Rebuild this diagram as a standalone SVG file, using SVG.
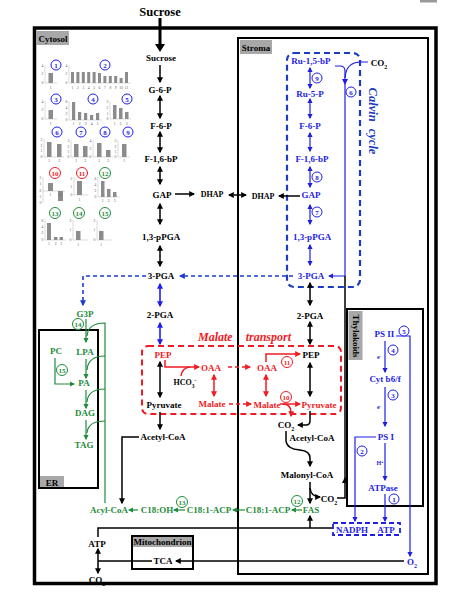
<svg xmlns="http://www.w3.org/2000/svg" width="471" height="604" viewBox="0 0 471 604">
<style>
text{font-family:"Liberation Serif","Times New Roman",serif;font-weight:bold;text-anchor:middle}
.n{font-size:9px;fill:#000}
.nb{font-size:9px;fill:#1e1ee6}
.nr{font-size:9px;fill:#ee1c24}
.ng{font-size:9px;fill:#1e8c3a}
.s8{font-size:8px}
.sm{font-size:6px}
.gray{fill:#a8a8a8}
.box{fill:none;stroke:#000;stroke-width:2}
.k{fill:none;stroke:#000;stroke-width:1.5}
.b{fill:none;stroke:#1e1ee6;stroke-width:1.2}
.bb{fill:none;stroke:#1e1ef5;stroke-width:1.6}
.bd{fill:none;stroke:#1c3cd0;stroke-width:1.6;stroke-dasharray:4 3}
.r{fill:none;stroke:#ee1c24;stroke-width:1.5}
.g{fill:none;stroke:#1e8c3a;stroke-width:1.2}
.dsh{stroke-dasharray:4 3}
.ax{fill:none;stroke:#c4c4c4;stroke-width:0.6}
.bar{fill:#8c8c8c}
.tk{font-size:3.6px;font-weight:normal;fill:#555}
.cb{fill:#fff;stroke:#1e1ee6;stroke-width:1}
.cr{fill:#fff;stroke:#ee1c24;stroke-width:1}
.cg{fill:#fff;stroke:#1e8c3a;stroke-width:1}
.cn{font-size:7px}
.big{font-size:12.5px}
</style>
<defs>
<marker id="aK" viewBox="0 0 10 10" refX="8" refY="5" markerWidth="6" markerHeight="6" markerUnits="userSpaceOnUse" orient="auto-start-reverse"><path d="M0,0L10,5L0,10z" fill="#000"/></marker>
<marker id="aB" viewBox="0 0 10 10" refX="8" refY="5" markerWidth="5.5" markerHeight="5.5" markerUnits="userSpaceOnUse" orient="auto-start-reverse"><path d="M0,0L10,5L0,10z" fill="#1e1ee6"/></marker>
<marker id="aBB" viewBox="0 0 10 10" refX="8" refY="5" markerWidth="6" markerHeight="6" markerUnits="userSpaceOnUse" orient="auto-start-reverse"><path d="M0,0L10,5L0,10z" fill="#1e1ef5"/></marker>
<marker id="aBD" viewBox="0 0 10 10" refX="8" refY="5" markerWidth="6" markerHeight="6" markerUnits="userSpaceOnUse" orient="auto-start-reverse"><path d="M0,0L10,5L0,10z" fill="#1c3cd0"/></marker>
<marker id="aR" viewBox="0 0 10 10" refX="8" refY="5" markerWidth="6" markerHeight="6" markerUnits="userSpaceOnUse" orient="auto-start-reverse"><path d="M0,0L10,5L0,10z" fill="#ee1c24"/></marker>
<marker id="aG" viewBox="0 0 10 10" refX="8" refY="5" markerWidth="5.5" markerHeight="5.5" markerUnits="userSpaceOnUse" orient="auto-start-reverse"><path d="M0,0L10,5L0,10z" fill="#1e8c3a"/></marker>
</defs>
<rect width="471" height="604" fill="#fff"/>
<rect x="420" y="0" width="17" height="2.5" fill="#999"/>

<!-- compartments -->
<g id="cytosol">
<rect x="34.5" y="28" width="401.5" height="555.5" fill="none" stroke="#000" stroke-width="3.5"/>
<rect class="gray" x="36" y="31" width="33" height="14"/>
<text class="n" x="53" y="41.5">Cytosol</text>
</g>
<g id="stroma">
<rect class="box" x="238" y="38" width="190" height="536"/>
<rect class="gray" x="240" y="40" width="32" height="14"/>
<text class="n" x="256" y="50.5">Stroma</text>
</g>
<g id="thylakoids">
<rect class="box" x="347" y="309" width="76" height="197"/>
<rect class="gray" x="348.5" y="311" width="14" height="49"/>
<text class="n" transform="translate(353,336) rotate(90)">Thylakoids</text>
</g>
<g id="er">
<rect class="box" x="39" y="330" width="59" height="158"/>
<rect class="gray" x="40" y="476" width="24" height="11"/>
<text class="n" x="52" y="485.5">ER</text>
</g>
<g id="mitochondrion">
<rect class="gray" x="132" y="536" width="61" height="11"/>
<rect class="box" x="132" y="536" width="61" height="33"/>
<text class="n" x="162.5" y="545">Mitochondrion</text>
</g>
<g id="calvin-cycle">
<rect x="287" y="53" width="73" height="234" rx="7" fill="none" stroke="#1c3cc0" stroke-width="2.2" stroke-dasharray="6 4"/>
<text font-size="12.5" font-style="italic" fill="#1c3cc0" word-spacing="4" transform="translate(369,121) rotate(90)">Calvin cycle</text>
</g>
<g id="malate-transport">
<rect x="142" y="346" width="199" height="68" rx="6" fill="none" stroke="#ee1c24" stroke-width="2" stroke-dasharray="6 4"/>
<text font-size="12" font-style="italic" fill="#ee1c24" word-spacing="10" x="198" y="341" style="text-anchor:start">Malate transport</text>
</g>

<!-- bar charts -->
<g id="charts">
<g id="chart1"><path class="ax" d="M45 65V83H57"/><rect class="bar" x="48.5" y="73" width="4.5" height="10"/>
<text class="tk" x="42.5" y="67">4</text><text class="tk" x="42.5" y="75">2</text><text class="tk" x="42.5" y="84">0</text><text class="tk" x="50.7" y="89">1</text></g>
<g id="chart2"><path class="ax" d="M69 65V83H131"/>
<rect class="bar" x="71" y="72" width="3" height="11"/><rect class="bar" x="76.4" y="72" width="3" height="11"/><rect class="bar" x="81.8" y="72" width="3" height="11"/><rect class="bar" x="87.2" y="72" width="3" height="11"/><rect class="bar" x="92.6" y="72" width="3" height="11"/><rect class="bar" x="98" y="73" width="3" height="10"/><rect class="bar" x="103.4" y="76" width="3" height="7"/><rect class="bar" x="108.8" y="76" width="3" height="7"/><rect class="bar" x="114.2" y="76" width="3" height="7"/><rect class="bar" x="119.6" y="78" width="3" height="5"/><rect class="bar" x="125" y="72" width="3" height="11"/>
<text class="tk" x="66.5" y="67">4</text><text class="tk" x="66.5" y="75">2</text><text class="tk" x="66.5" y="84">0</text>
<text class="tk" x="72.5" y="89">1</text><text class="tk" x="77.9" y="89">2</text><text class="tk" x="83.3" y="89">3</text><text class="tk" x="88.7" y="89">4</text><text class="tk" x="94.1" y="89">5</text><text class="tk" x="99.5" y="89">6</text><text class="tk" x="104.9" y="89">7</text><text class="tk" x="110.3" y="89">8</text><text class="tk" x="115.7" y="89">9</text><text class="tk" x="121.1" y="89">10</text><text class="tk" x="126.5" y="89">11</text></g>
<g id="chart3"><path class="ax" d="M45 101V119H57"/><rect class="bar" x="48.5" y="110" width="4.5" height="9"/>
<text class="tk" x="42.5" y="103">4</text><text class="tk" x="42.5" y="111">2</text><text class="tk" x="42.5" y="120">0</text><text class="tk" x="50.7" y="125">1</text></g>
<g id="chart4"><path class="ax" d="M69 101V120H102"/>
<rect class="bar" x="72" y="102" width="3.2" height="18"/><rect class="bar" x="78" y="112" width="3.2" height="8"/><rect class="bar" x="84" y="113" width="3.2" height="7"/><rect class="bar" x="90" y="115" width="3.2" height="5"/><rect class="bar" x="96" y="113" width="3.2" height="7"/>
<text class="tk" x="66.5" y="103">6</text><text class="tk" x="66.5" y="109">4</text><text class="tk" x="66.5" y="115">2</text><text class="tk" x="66.5" y="121">0</text>
<text class="tk" x="73.6" y="125">1</text><text class="tk" x="79.6" y="125">2</text><text class="tk" x="85.6" y="125">3</text><text class="tk" x="91.6" y="125">4</text><text class="tk" x="97.6" y="125">5</text></g>
<g id="chart5"><path class="ax" d="M110 101V119H131"/>
<rect class="bar" x="113" y="105" width="3.5" height="14"/><rect class="bar" x="119" y="108" width="3.5" height="11"/><rect class="bar" x="125" y="112" width="3.5" height="7"/>
<text class="tk" x="107.5" y="103">3</text><text class="tk" x="107.5" y="109">2</text><text class="tk" x="107.5" y="115">1</text><text class="tk" x="107.5" y="120">0</text>
<text class="tk" x="114.7" y="125">1</text><text class="tk" x="120.7" y="125">2</text><text class="tk" x="126.7" y="125">3</text></g>
<g id="chart6"><path class="ax" d="M44 139V157H64"/>
<rect class="bar" x="47" y="142" width="4.5" height="15"/><rect class="bar" x="57" y="144" width="4.5" height="13"/>
<text class="tk" x="41.5" y="141">3</text><text class="tk" x="41.5" y="147">2</text><text class="tk" x="41.5" y="152">1</text><text class="tk" x="41.5" y="158">0</text>
<text class="tk" x="49.2" y="162">1</text><text class="tk" x="59.2" y="162">2</text></g>
<g id="chart7"><path class="ax" d="M71 140V157H90"/>
<rect class="bar" x="74" y="144" width="4.5" height="13"/><rect class="bar" x="83" y="146" width="4.5" height="11"/>
<text class="tk" x="68.5" y="142">3</text><text class="tk" x="68.5" y="148">2</text><text class="tk" x="68.5" y="153">1</text><text class="tk" x="68.5" y="158">0</text>
<text class="tk" x="76.2" y="162">1</text><text class="tk" x="85.2" y="162">2</text></g>
<g id="chart8"><path class="ax" d="M93 140V157H113"/>
<rect class="bar" x="97" y="143" width="4.5" height="14"/><rect class="bar" x="106" y="150" width="4.5" height="7"/>
<text class="tk" x="90.5" y="142">4</text><text class="tk" x="90.5" y="150">2</text><text class="tk" x="90.5" y="158">0</text>
<text class="tk" x="99.2" y="162">1</text><text class="tk" x="108.2" y="162">2</text></g>
<g id="chart9"><path class="ax" d="M118 140V157H130"/>
<rect class="bar" x="122" y="144" width="4.5" height="13"/>
<text class="tk" x="115.5" y="142">3</text><text class="tk" x="115.5" y="148">2</text><text class="tk" x="115.5" y="153">1</text><text class="tk" x="115.5" y="158">0</text>
<text class="tk" x="124.2" y="162">1</text></g>
<g id="chart10"><path class="ax" d="M43 177V203M43 191H65"/>
<rect class="bar" x="48" y="183" width="5" height="8"/><rect class="bar" x="58" y="191" width="5" height="10"/>
<text class="tk" x="40.5" y="179">2</text><text class="tk" x="40.5" y="185">1</text><text class="tk" x="40.5" y="192">0</text><text class="tk" x="40" y="198">-1</text><text class="tk" x="40" y="204">-2</text>
<text class="tk" x="50.5" y="196">1</text><text class="tk" x="60.5" y="196">2</text></g>
<g id="chart11"><path class="ax" d="M74 177V195H88"/>
<rect class="bar" x="77" y="181" width="5" height="14"/>
<text class="tk" x="71.5" y="180">2</text><text class="tk" x="71.5" y="188">1</text><text class="tk" x="71.5" y="196">0</text><text class="tk" x="79.5" y="201">1</text></g>
<g id="chart12"><path class="ax" d="M98 177V197H120"/>
<rect class="bar" x="101" y="181" width="3.5" height="16"/><rect class="bar" x="107" y="189" width="3.5" height="8"/><rect class="bar" x="113" y="192" width="3.5" height="5"/>
<text class="tk" x="95.5" y="180">6</text><text class="tk" x="95.5" y="186">4</text><text class="tk" x="95.5" y="192">2</text><text class="tk" x="95.5" y="198">0</text>
<text class="tk" x="102.7" y="202">1</text><text class="tk" x="108.7" y="202">2</text><text class="tk" x="114.7" y="202">3</text></g>
<g id="chart13"><path class="ax" d="M45 219V240H66"/>
<rect class="bar" x="47" y="223" width="4" height="17"/><rect class="bar" x="54" y="237" width="3.5" height="3"/><rect class="bar" x="59.5" y="237" width="3.5" height="3"/>
<text class="tk" x="42.5" y="222">6</text><text class="tk" x="42.5" y="228">4</text><text class="tk" x="42.5" y="234">2</text><text class="tk" x="42.5" y="241">0</text>
<text class="tk" x="49" y="245">1</text><text class="tk" x="55.7" y="245">2</text><text class="tk" x="61.2" y="245">3</text></g>
<g id="chart14"><path class="ax" d="M73 220V240H88"/>
<rect class="bar" x="76" y="231" width="4.5" height="9"/>
<text class="tk" x="70.5" y="222">2</text><text class="tk" x="70.5" y="231">1</text><text class="tk" x="70.5" y="241">0</text><text class="tk" x="78.2" y="246">1</text></g>
<g id="chart15"><path class="ax" d="M97 220V240H112"/>
<rect class="bar" x="99" y="231" width="4.5" height="9"/>
<text class="tk" x="94.5" y="222">2</text><text class="tk" x="94.5" y="231">1</text><text class="tk" x="94.5" y="241">0</text><text class="tk" x="101.2" y="246">1</text></g>
<g id="chart-labels">
<circle class="cb" cx="56" cy="65" r="5"/><text class="nb cn" x="56" y="67.5">1</text>
<circle class="cb" cx="105" cy="65" r="5"/><text class="nb cn" x="105" y="67.5">2</text>
<circle class="cb" cx="56" cy="99" r="5"/><text class="nb cn" x="56" y="101.5">3</text>
<circle class="cb" cx="93" cy="99" r="5"/><text class="nb cn" x="93" y="101.5">4</text>
<circle class="cb" cx="127" cy="99" r="5"/><text class="nb cn" x="127" y="101.5">5</text>
<circle class="cb" cx="57" cy="132" r="5"/><text class="nb cn" x="57" y="134.5">6</text>
<circle class="cb" cx="81" cy="132" r="5"/><text class="nb cn" x="81" y="134.5">7</text>
<circle class="cb" cx="105" cy="132" r="5"/><text class="nb cn" x="105" y="134.5">8</text>
<circle class="cb" cx="128" cy="132" r="5"/><text class="nb cn" x="128" y="134.5">9</text>
<circle class="cr" cx="55" cy="173" r="5.5"/><text class="nr cn" x="55" y="175.5">10</text>
<circle class="cr" cx="82" cy="173" r="5.5"/><text class="nr cn" x="82" y="175.5">11</text>
<circle class="cg" cx="105" cy="173" r="5.5"/><text class="ng cn" x="105" y="175.5">12</text>
<circle class="cg" cx="55" cy="213" r="5.5"/><text class="ng cn" x="55" y="215.5">13</text>
<circle class="cg" cx="79" cy="213" r="5.5"/><text class="ng cn" x="79" y="215.5">14</text>
<circle class="cg" cx="105" cy="213" r="5.5"/><text class="ng cn" x="105" y="215.5">15</text>
</g>
</g>

<!-- connectors -->
<g id="connectors">
<path d="M160 18V45" stroke="#000" stroke-width="3" fill="none"/>
<polygon points="155,44 165,44 160,52" fill="#000"/>
<path class="k" d="M160 65V82" marker-end="url(#aK)"/>
<path class="k" d="M160 96V118" marker-start="url(#aK)" marker-end="url(#aK)"/>
<path class="k" d="M160 132V152" marker-start="url(#aK)" marker-end="url(#aK)"/>
<path class="k" d="M160 167V184" marker-start="url(#aK)" marker-end="url(#aK)"/>
<path class="k" d="M160 204V224" marker-start="url(#aK)" marker-end="url(#aK)"/>
<path class="k" d="M160 246V266" marker-start="url(#aK)" marker-end="url(#aK)"/>
<path class="bb" d="M160 284V306" marker-start="url(#aBB)" marker-end="url(#aBB)"/>
<path class="bb" d="M160 323V344" marker-start="url(#aBB)" marker-end="url(#aBB)"/>
<path class="k" d="M160 362V397" marker-start="url(#aK)" marker-end="url(#aK)"/>
<path class="k" d="M160 412V429" marker-end="url(#aK)"/>
<path class="k" d="M175 194H194" marker-end="url(#aK)"/>
<path class="k" d="M229 195H246" stroke-dasharray="3 2" marker-start="url(#aK)" marker-end="url(#aK)"/>
<path class="k" d="M300 196H279" stroke-width="1.2" marker-end="url(#aK)"/>
<!-- Calvin cycle -->
<path class="b" d="M310 68V88" marker-start="url(#aB)" marker-end="url(#aB)"/>
<path class="b" d="M310 99V118" marker-start="url(#aB)" marker-end="url(#aB)"/>
<path class="b" d="M310 133V151" marker-start="url(#aB)" marker-end="url(#aB)"/>
<path class="b" d="M310 167V187" marker-start="url(#aB)" marker-end="url(#aB)"/>
<path class="b" d="M310 205V224" marker-start="url(#aB)" marker-end="url(#aB)"/>
<path class="b" d="M310 245V265" marker-start="url(#aB)" marker-end="url(#aB)"/>
<path class="b" d="M335 66H340Q345 66 345 71V276H329" marker-end="url(#aB)"/>
<polygon points="342,79 348,79 345,85" fill="#1e1ee6"/>
<path class="b" d="M368 62H361Q346 62 345 78"/>
<path class="k" d="M337 498H345V276" stroke-width="1.2"/>
<polygon points="342,483 348,483 345,477" fill="#000"/>
<path class="bd" d="M293 276H180" marker-end="url(#aBD)"/>
<path class="bd" d="M146 276H83V305" marker-end="url(#aBD)"/>
<!-- stroma column -->
<path class="k" d="M310 283V305" marker-start="url(#aK)" marker-end="url(#aK)"/>
<path class="k" d="M310 322V344" marker-start="url(#aK)" marker-end="url(#aK)"/>
<path class="k" d="M310 363V396" marker-start="url(#aK)" marker-end="url(#aK)"/>
<!-- malate transport -->
<path class="r" d="M165 360V367H199" marker-end="url(#aR)"/>
<path class="r" d="M181 376Q182 368 190 367" stroke-width="1"/>
<path class="r" d="M214 375V396" marker-start="url(#aR)" marker-end="url(#aR)"/>
<path class="r dsh" d="M228 367H250" marker-end="url(#aR)"/>
<path class="r dsh" d="M229 404H251" marker-end="url(#aR)"/>
<path class="r" d="M266 375V396" marker-start="url(#aR)" marker-end="url(#aR)"/>
<path class="r" d="M266 362V354H300" marker-end="url(#aR)"/>
<path class="r" d="M280 404H300" marker-end="url(#aR)"/>
<path class="r" d="M283 404Q292 404 291 416" marker-end="url(#aR)"/>
<!-- fatty acid synthesis -->
<path class="k" d="M310 411V421Q310 425 306 425H298" marker-end="url(#aK)"/>
<path class="k" d="M286 431V441Q287 449 300 450Q310 451 310 458V466" marker-end="url(#aK)"/>
<path class="k" d="M310 482V503" marker-end="url(#aK)"/>
<path class="k" d="M310 488Q311 497 320 497" stroke-width="1.2" marker-end="url(#aK)"/>
<path class="k" d="M139 437H122V503" marker-end="url(#aK)"/>
<path class="g" d="M138 510H129" marker-end="url(#aG)"/>
<path class="g" d="M185 510H174" marker-end="url(#aG)"/>
<path class="g" d="M245 510H233" marker-end="url(#aG)"/>
<path class="g" d="M302 510H292" marker-end="url(#aG)"/>
<!-- lipid assembly -->
<path class="g" d="M105 503V323Q88 323 87 336"/>
<path class="g" d="M105 356Q88 356 87 370"/>
<path class="g" d="M105 389Q88 389 87 402"/>
<path class="g" d="M105 421Q88 421 87 433"/>
<path class="g" d="M86 319V342" marker-end="url(#aG)"/>
<path class="g" d="M86 359V378" marker-end="url(#aG)"/>
<path class="g" d="M86 390V408" marker-end="url(#aG)"/>
<path class="g" d="M86 420V439" marker-end="url(#aG)"/>
<path class="g" d="M55 358V384H74" marker-end="url(#aG)"/>
<!-- energy -->
<path class="k" d="M333 528H98V537" stroke-width="1.2"/>
<path class="k" d="M310 528V516" stroke-width="1.2" marker-end="url(#aK)"/>
<path class="k" d="M98 549V573" stroke-width="1.2" marker-start="url(#aK)" marker-end="url(#aK)"/>
<path class="k" d="M404 561H176" stroke-width="1.2" marker-end="url(#aK)"/>
<path class="k" d="M152 561H98" stroke-width="1.2"/>
<!-- thylakoid -->
<path class="b" d="M396 336H410V556" marker-end="url(#aB)"/>
<path class="b" d="M385 341V372" marker-end="url(#aB)"/>
<path class="b" d="M385 387V426" marker-end="url(#aB)"/>
<path class="b" d="M376 437H355V521" marker-end="url(#aB)"/>
<path class="b" d="M385 443V480" marker-end="url(#aB)"/>
<path class="b" d="M385 494V521" marker-end="url(#aB)"/>
<rect x="333" y="523" width="67" height="12" fill="none" stroke="#1e1ee6" stroke-width="1.8" stroke-dasharray="5 3"/>
</g>

<!-- nodes -->
<g id="sucrose-ext"><text class="n big" x="160" y="15.5">Sucrose</text></g>
<g id="sucrose"><text class="n" x="161" y="61">Sucrose</text></g>
<g id="g6p"><text class="n" x="160" y="92.5">G-6-P</text></g>
<g id="f6p"><text class="n" x="161" y="129">F-6-P</text></g>
<g id="f16bp"><text class="n" x="161" y="161.5">F-1,6-bP</text></g>
<g id="gap"><text class="n" x="162" y="197.5">GAP</text></g>
<g id="dhap-c"><text class="n s8" x="212" y="197">DHAP</text></g>
<g id="pga13"><text class="n" x="161" y="240">1,3-pPGA</text></g>
<g id="pga3"><text class="n" x="161" y="278.5">3-PGA</text></g>
<g id="pga2"><text class="n" x="160" y="318">2-PGA</text></g>
<g id="pep-c"><text class="nr" x="163" y="357.5">PEP</text></g>
<g id="oaa-c"><text class="nr" x="211" y="371">OAA</text></g>
<g id="hco3"><text class="n s8" x="185" y="385">HCO<tspan font-size="5.5" baseline-shift="sub">3</tspan><tspan font-size="5.5" baseline-shift="super">-</tspan></text></g>
<g id="malate-c"><text class="nr" x="212" y="407">Malate</text></g>
<g id="pyruvate-c"><text class="n" x="164" y="408">Pyruvate</text></g>
<g id="acetylcoa-c"><text class="n" x="163" y="440">Acetyl-CoA</text></g>

<g id="ru15bp"><text class="nb" x="311" y="64">Ru-1,5-bP</text></g>
<g id="co2-calvin"><text class="n" x="379" y="65.5">CO<tspan font-size="6" baseline-shift="sub">2</tspan></text></g>
<g id="ru5p"><text class="nb" x="310" y="96.5">Ru-5-P</text></g>
<g id="f6p-s"><text class="nb" x="310" y="128.5">F-6-P</text></g>
<g id="f16bp-s"><text class="nb" x="312" y="162">F-1,6-bP</text></g>
<g id="gap-s"><text class="nb" x="311" y="198">GAP</text></g>
<g id="dhap-s"><text class="n s8" x="263" y="198.5">DHAP</text></g>
<g id="pga13-s"><text class="nb" x="312" y="240">1,3-pPGA</text></g>
<g id="pga3-s"><text class="nb" x="311" y="279">3-PGA</text></g>
<g id="pga2-s"><text class="n" x="310" y="318.5">2-PGA</text></g>
<g id="pep-s"><text class="n" x="311" y="358">PEP</text></g>
<g id="oaa-s"><text class="nr" x="267" y="371">OAA</text></g>
<g id="malate-s"><text class="nr" x="267" y="407.5">Malate</text></g>
<g id="pyruvate-s"><text class="nr" x="319" y="408">Pyruvate</text></g>
<g id="co2-s1"><text class="n" x="286" y="427.5">CO<tspan font-size="6" baseline-shift="sub">2</tspan></text></g>
<g id="acetylcoa-s"><text class="n" x="312" y="441">Acetyl-CoA</text></g>
<g id="malonylcoa"><text class="n" x="307" y="478">Malonyl-CoA</text></g>
<g id="co2-s2"><text class="n" x="329" y="501.5">CO<tspan font-size="6" baseline-shift="sub">2</tspan></text></g>
<g id="fas"><text class="ng" x="311" y="513">FAS</text></g>
<g id="c181acp-s"><text class="ng" x="268" y="513">C18:1-ACP</text></g>
<g id="c181acp-c"><text class="ng" x="209" y="513">C18:1-ACP</text></g>
<g id="c18oh"><text class="ng" x="157" y="513">C18:OH</text></g>
<g id="acylcoa"><text class="ng" x="109" y="513">Acyl-CoA</text></g>

<g id="g3p"><text class="ng" x="85" y="317">G3P</text></g>
<g id="lpa"><text class="ng" x="85" y="355">LPA</text></g>
<g id="pc"><text class="ng" x="56" y="354">PC</text></g>
<g id="pa"><text class="ng" x="84" y="385.5">PA</text></g>
<g id="dag"><text class="ng" x="85" y="416">DAG</text></g>
<g id="tag"><text class="ng" x="84" y="448">TAG</text></g>

<g id="ps2"><text class="nb" x="384.5" y="337">PS II</text></g>
<g id="cytb6f"><text class="nb" x="385" y="382">Cyt b6/f</text></g>
<g id="ps1"><text class="nb" x="386" y="440">PS I</text></g>
<g id="atpase"><text class="nb" x="383" y="491">ATPase</text></g>
<g id="nadph"><text class="nb" x="352" y="532.5">NADPH</text></g>
<g id="atp-s"><text class="nb" x="386" y="532.5">ATP</text></g>
<g id="o2"><text class="nb" x="412" y="565">O<tspan font-size="6" baseline-shift="sub">2</tspan></text></g>
<g id="e1"><text class="nb sm" x="379" y="359">e<tspan font-size="4.5" baseline-shift="super">-</tspan></text></g>
<g id="e2"><text class="nb sm" x="379" y="409">e<tspan font-size="4.5" baseline-shift="super">-</tspan></text></g>
<g id="hplus"><text class="nb sm" x="380" y="465">H<tspan font-size="4.5" baseline-shift="super">+</tspan></text></g>

<g id="atp-c"><text class="n" x="97" y="547">ATP</text></g>
<g id="co2-c"><text class="n" x="97" y="583">CO<tspan font-size="6" baseline-shift="sub">2</tspan></text></g>
<g id="tca"><text class="n" x="163" y="564">TCA</text></g>

<!-- enzyme labels -->
<g id="enzymes">
<circle class="cb" cx="317" cy="78" r="5"/><text class="nb cn" x="317" y="80.5">9</text>
<circle class="cb" cx="317" cy="177" r="5"/><text class="nb cn" x="317" y="179.5">8</text>
<circle class="cb" cx="317" cy="212" r="5"/><text class="nb cn" x="317" y="214.5">7</text>
<circle class="cb" cx="351" cy="92" r="5"/><text class="nb cn" x="351" y="94.5">6</text>
<circle class="cb" cx="404" cy="331" r="5"/><text class="nb cn" x="404" y="333.5">5</text>
<circle class="cb" cx="393" cy="350" r="5"/><text class="nb cn" x="393" y="352.5">4</text>
<circle class="cb" cx="393" cy="395" r="5"/><text class="nb cn" x="393" y="397.5">3</text>
<circle class="cb" cx="362" cy="451" r="5"/><text class="nb cn" x="362" y="453.5">2</text>
<circle class="cb" cx="394" cy="499" r="5"/><text class="nb cn" x="394" y="501.5">1</text>
<circle class="cr" cx="287" cy="362" r="5.5"/><text class="nr cn" x="287" y="364.5">11</text>
<circle class="cr" cx="286" cy="397" r="5.5"/><text class="nr cn" x="286" y="399.5">10</text>
<circle class="cg" cx="297" cy="501" r="5.5"/><text class="ng cn" x="297" y="503.5">12</text>
<circle class="cg" cx="182" cy="502" r="5.5"/><text class="ng cn" x="182" y="504.5">13</text>
<circle class="cg" cx="78" cy="324" r="5.5"/><text class="ng cn" x="78" y="326.5">14</text>
<circle class="cg" cx="62" cy="370" r="5.5"/><text class="ng cn" x="62" y="372.5">15</text>
</g>
</svg>
